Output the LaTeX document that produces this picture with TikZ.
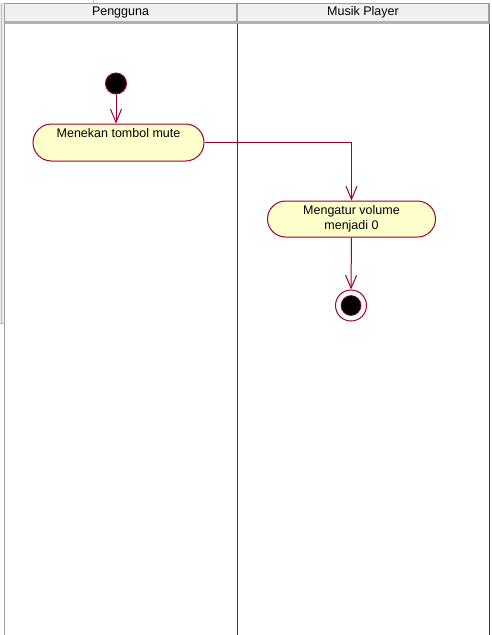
\documentclass[tikz,border=0pt]{standalone}
\usepackage{fontspec}
\setmainfont{Liberation Sans}
\usetikzlibrary{arrows.meta,shapes.misc}
\definecolor{lane}{RGB}{153,0,51}
\definecolor{actfill}{RGB}{255,255,204}
\definecolor{headfill}{RGB}{240,240,240}
\begin{document}
\begin{tikzpicture}[x=1pt,y=-1pt,
  txt/.style={font=\fontsize{12.5}{15.5}\selectfont},
  activity/.style={rounded rectangle, draw=lane, fill=actfill, line width=1pt,
    inner sep=0pt, txt, align=center},
  flow/.style={draw=lane, line width=1pt,
    -{Straight Barb[length=13pt,width=11pt,line width=1pt]}},
  startnode/.style={circle, draw=lane, fill=black, minimum size=21pt, inner sep=0pt, line width=1pt},
  endnode/.style={circle, draw=lane, fill=white, minimum size=31pt, inner sep=0pt, line width=1pt},
  headtxt/.style={txt, inner sep=0pt}]
\useasboundingbox (0,0) rectangle (491,635);
\fill[white] (0,0) rectangle (491,635);

% window frame on the left
\fill[gray!15] (0,3) rectangle (4,323);
\draw[gray!50, line width=1pt] (1,3) -- (1,323);
\draw[gray!50, line width=0.8pt] (0,323.5) -- (4,323.5);
\draw[gray!75, line width=1.2pt] (4.4,3) -- (4.4,635);
\draw[gray!50, line width=0.8pt] (93,0) -- (93,3);

% lane headers
\fill[headfill] (5,3) rectangle (489,21);
\fill[gray!60] (5,21) rectangle (489,24);
\draw[gray!80, line width=0.8pt] (5,3) -- (489,3);
\draw[gray!75, line width=1.5pt] (237,3) -- (237,21);
\draw[gray!75, line width=1.2pt] (489,3) -- (489,24);
\node[headtxt] (h1) at (120.5,12.5) {Pengguna};
\node[headtxt] (h2) at (363,12.5) {Musik Player};

% lane borders
\draw[lane, line width=1pt] (237,24) -- (237,635);
\draw[lane, line width=1pt] (489.5,24) -- (489.5,635);

% activity nodes
\node[startnode] (init) at (116,83.5) {};
\node[activity, minimum width=171pt, minimum height=37pt] (a1) at (118.5,142.5)
  {\raisebox{5.5pt}[0pt][0pt]{Menekan tombol mute}};
\node[activity, minimum width=168pt, minimum height=36pt] (a2) at (351.5,219)
  {Mengatur volume\\menjadi 0};
\node[endnode] (fin) at (351,305.5) {};
\fill[black] (fin.center) circle[radius=10pt];
\draw[lane, line width=0.6pt] (fin.center) circle[radius=10pt];

% control flow
\draw[flow] (init) -- (init |- a1.north);
\draw[flow] (a1.east) -| (a2.north);
\draw[flow] (a2.south) -- (fin.north);
\end{tikzpicture}
\end{document}
